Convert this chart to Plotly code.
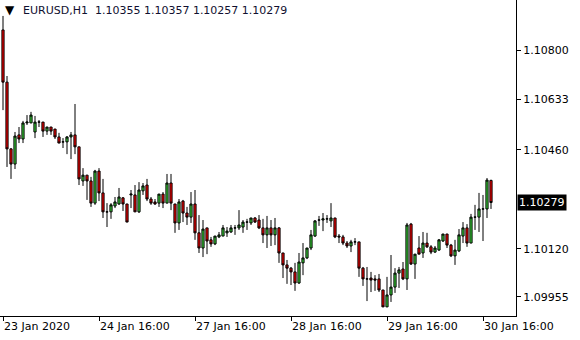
import plotly.graph_objects as go

symbol_title = "EURUSD,H1"
last_ohlc = ["1.10355", "1.10357", "1.10257", "1.10279"]

opens = [1.10871, 1.10692, 1.10463, 1.10411, 1.10511, 1.10497, 1.10552, 1.10552, 1.10521, 1.10555,
         1.10555, 1.10524, 1.10538, 1.10531, 1.10504, 1.10487, 1.10487, 1.10504, 1.10511, 1.10470,
         1.10353, 1.10373, 1.10353, 1.10277, 1.10387, 1.10312, 1.10247, 1.10247, 1.10267, 1.10274,
         1.10295, 1.10274, 1.10305, 1.10305, 1.10247, 1.10319, 1.10339, 1.10291, 1.10281, 1.10277,
         1.10308, 1.10277, 1.10346, 1.10274, 1.10209, 1.10284, 1.10243, 1.10229, 1.10274, 1.10175,
         1.10123, 1.10192, 1.10151, 1.10137, 1.10161, 1.10164, 1.10175, 1.10178, 1.10192, 1.10192,
         1.10195, 1.10212, 1.10209, 1.10226, 1.10219, 1.10192, 1.10168, 1.10192, 1.10168, 1.10192,
         1.10106, 1.10065, 1.10054, 1.10041, 1.10003, 1.10072, 1.10089, 1.10123, 1.10164, 1.10219,
         1.10219, 1.10223, 1.10216, 1.10226, 1.10164, 1.10161, 1.10140, 1.10130, 1.10144, 1.10144,
         1.10054, 1.10017, 1.10020, 1.10017, 1.10017, 1.09979, 1.09921, 1.09962, 1.09989, 1.10037,
         1.10051, 1.10017, 1.10205, 1.10068, 1.10123, 1.10106, 1.10140, 1.10127, 1.10109, 1.10116,
         1.10147, 1.10171, 1.10133, 1.10096, 1.10113, 1.10164, 1.10192, 1.10140, 1.10229, 1.10229,
         1.10257, 1.10257, 1.10355]
highs = [1.10919, 1.10713, 1.10466, 1.10521, 1.10538, 1.10559, 1.10579, 1.10590, 1.10576, 1.10562,
         1.10555, 1.10538, 1.10538, 1.10531, 1.10518, 1.10500, 1.10507, 1.10521, 1.10617, 1.10470,
         1.10397, 1.10373, 1.10367, 1.10391, 1.10397, 1.10360, 1.10277, 1.10277, 1.10298, 1.10329,
         1.10298, 1.10274, 1.10322, 1.10339, 1.10349, 1.10346, 1.10360, 1.10298, 1.10291, 1.10308,
         1.10315, 1.10377, 1.10377, 1.10274, 1.10291, 1.10288, 1.10264, 1.10315, 1.10322, 1.10236,
         1.10219, 1.10192, 1.10161, 1.10164, 1.10178, 1.10202, 1.10195, 1.10202, 1.10202, 1.10253,
         1.10219, 1.10223, 1.10226, 1.10229, 1.10236, 1.10223, 1.10233, 1.10219, 1.10226, 1.10195,
         1.10106, 1.10082, 1.10058, 1.10072, 1.10106, 1.10140, 1.10123, 1.10185, 1.10219, 1.10233,
         1.10243, 1.10236, 1.10277, 1.10226, 1.10171, 1.10168, 1.10147, 1.10151, 1.10157, 1.10144,
         1.10058, 1.10058, 1.10041, 1.10030, 1.10034, 1.09979, 1.10024, 1.10099, 1.10054, 1.10058,
         1.10075, 1.10209, 1.10209, 1.10102, 1.10164, 1.10178, 1.10175, 1.10133, 1.10130, 1.10154,
         1.10171, 1.10171, 1.10137, 1.10151, 1.10188, 1.10212, 1.10205, 1.10240, 1.10271, 1.10312,
         1.10305, 1.10363, 1.10357]
lows = [1.10596, 1.10401, 1.10360, 1.10394, 1.10483, 1.10483, 1.10545, 1.10552, 1.10500, 1.10538,
        1.10504, 1.10511, 1.10511, 1.10497, 1.10483, 1.10466, 1.10445, 1.10428, 1.10445, 1.10339,
        1.10336, 1.10288, 1.10264, 1.10271, 1.10284, 1.10226, 1.10195, 1.10223, 1.10260, 1.10271,
        1.10250, 1.10212, 1.10260, 1.10247, 1.10243, 1.10305, 1.10284, 1.10271, 1.10271, 1.10264,
        1.10260, 1.10277, 1.10253, 1.10175, 1.10185, 1.10212, 1.10202, 1.10209, 1.10151, 1.10106,
        1.10092, 1.10102, 1.10127, 1.10133, 1.10157, 1.10164, 1.10161, 1.10175, 1.10168, 1.10185,
        1.10175, 1.10185, 1.10202, 1.10209, 1.10188, 1.10140, 1.10123, 1.10130, 1.10133, 1.10072,
        1.10020, 1.10000, 1.09996, 1.09976, 1.10000, 1.10030, 1.10085, 1.10116, 1.10161, 1.10199,
        1.10181, 1.10209, 1.10195, 1.10157, 1.10140, 1.10133, 1.10123, 1.10109, 1.10133, 1.10024,
        1.09993, 1.09941, 1.09972, 1.09976, 1.09972, 1.09921, 1.09921, 1.09938, 1.09969, 1.09986,
        1.10013, 1.09979, 1.10065, 1.10017, 1.10102, 1.10089, 1.10123, 1.10102, 1.10106, 1.10113,
        1.10144, 1.10123, 1.10092, 1.10065, 1.10109, 1.10140, 1.10127, 1.10140, 1.10185, 1.10178,
        1.10147, 1.10226, 1.10257]
closes = [1.10692, 1.10463, 1.10411, 1.10507, 1.10497, 1.10552, 1.10555, 1.10579, 1.10555, 1.10555,
          1.10524, 1.10538, 1.10524, 1.10504, 1.10483, 1.10487, 1.10504, 1.10511, 1.10470, 1.10360,
          1.10373, 1.10353, 1.10277, 1.10387, 1.10312, 1.10247, 1.10247, 1.10271, 1.10281, 1.10298,
          1.10274, 1.10212, 1.10308, 1.10247, 1.10322, 1.10336, 1.10291, 1.10277, 1.10274, 1.10308,
          1.10277, 1.10346, 1.10277, 1.10209, 1.10281, 1.10243, 1.10229, 1.10274, 1.10175, 1.10123,
          1.10188, 1.10147, 1.10137, 1.10164, 1.10168, 1.10192, 1.10181, 1.10192, 1.10192, 1.10202,
          1.10212, 1.10212, 1.10226, 1.10212, 1.10192, 1.10168, 1.10192, 1.10168, 1.10192, 1.10106,
          1.10065, 1.10054, 1.10041, 1.10003, 1.10075, 1.10089, 1.10123, 1.10168, 1.10216, 1.10219,
          1.10223, 1.10223, 1.10226, 1.10161, 1.10161, 1.10140, 1.10130, 1.10144, 1.10144, 1.10054,
          1.10017, 1.10017, 1.10013, 1.10013, 1.09979, 1.09921, 1.09962, 1.09989, 1.10037, 1.10048,
          1.10017, 1.10202, 1.10068, 1.10102, 1.10102, 1.10140, 1.10127, 1.10109, 1.10123, 1.10151,
          1.10171, 1.10133, 1.10096, 1.10116, 1.10168, 1.10192, 1.10140, 1.10229, 1.10229, 1.10257,
          1.10257, 1.10356, 1.10279]

time_tick_pos = [0, 24, 48, 72, 96, 120]
time_tick_labels = ["23 Jan 2020", "24 Jan 16:00", "27 Jan 16:00", "28 Jan 16:00",
                    "29 Jan 16:00", "30 Jan 16:00"]
price_ticks = [1.09955, 1.10120, 1.10460, 1.10633, 1.10800]
price_tick_labels = ["1.09955", "1.10120", "1.10460", "1.10633", "1.10800"]
current_price = 1.10279

bar_index = list(range(len(opens)))

FONT = "DejaVu Sans"

fig = go.Figure(go.Candlestick(
    x=bar_index, open=opens, high=highs, low=lows, close=closes,
    increasing=dict(line=dict(color="black", width=1), fillcolor="#3ad83a"),
    decreasing=dict(line=dict(color="black", width=1), fillcolor="#ff0000"),
    whiskerwidth=0, showlegend=False, hoverinfo="skip",
))

fig.update_layout(
    width=580, height=340,
    margin=dict(l=0, r=64, t=0, b=24, pad=0),
    paper_bgcolor="white", plot_bgcolor="white",
    font=dict(family=FONT, size=11, color="black"),
    boxgap=0.22,
    showlegend=False,
    xaxis=dict(
        range=[-0.75, 128.25], rangeslider=dict(visible=False),
        showgrid=False, zeroline=False,
        showline=True, linecolor="black", linewidth=1,
        ticks="outside", ticklen=4, tickcolor="black", tickwidth=1,
        tickvals=time_tick_pos, ticktext=time_tick_labels,
        ticklabelposition="outside right",
        tickfont=dict(family=FONT, size=11, color="black"),
    ),
    yaxis=dict(
        side="right", range=[1.098898, 1.109737],
        showgrid=False, zeroline=False,
        showline=True, linecolor="black", linewidth=1,
        ticks="outside", ticklen=4, tickcolor="black", tickwidth=1,
        tickvals=price_ticks, ticktext=price_tick_labels,
        tickfont=dict(family=FONT, size=11, color="black"),
    ),
    annotations=[
        dict(text="▼", xref="paper", yref="paper", x=0.006, y=0.968,
             xanchor="left", yanchor="middle", showarrow=False,
             font=dict(family=FONT, size=12, color="black")),
        dict(text=symbol_title + "\u00a0\u00a0" + " ".join(last_ohlc),
             xref="paper", yref="paper", x=0.04, y=0.968,
             xanchor="left", yanchor="middle", showarrow=False,
             font=dict(family=FONT, size=11, color="#101030")),
        dict(text=f"{current_price:.5f}", xref="paper", yref="y", x=1, y=current_price,
             xanchor="left", yanchor="middle", xshift=1, showarrow=False,
             bgcolor="black", borderpad=1,
             font=dict(family=FONT, size=11, color="white")),
    ],
)

fig.write_html("out.html")
